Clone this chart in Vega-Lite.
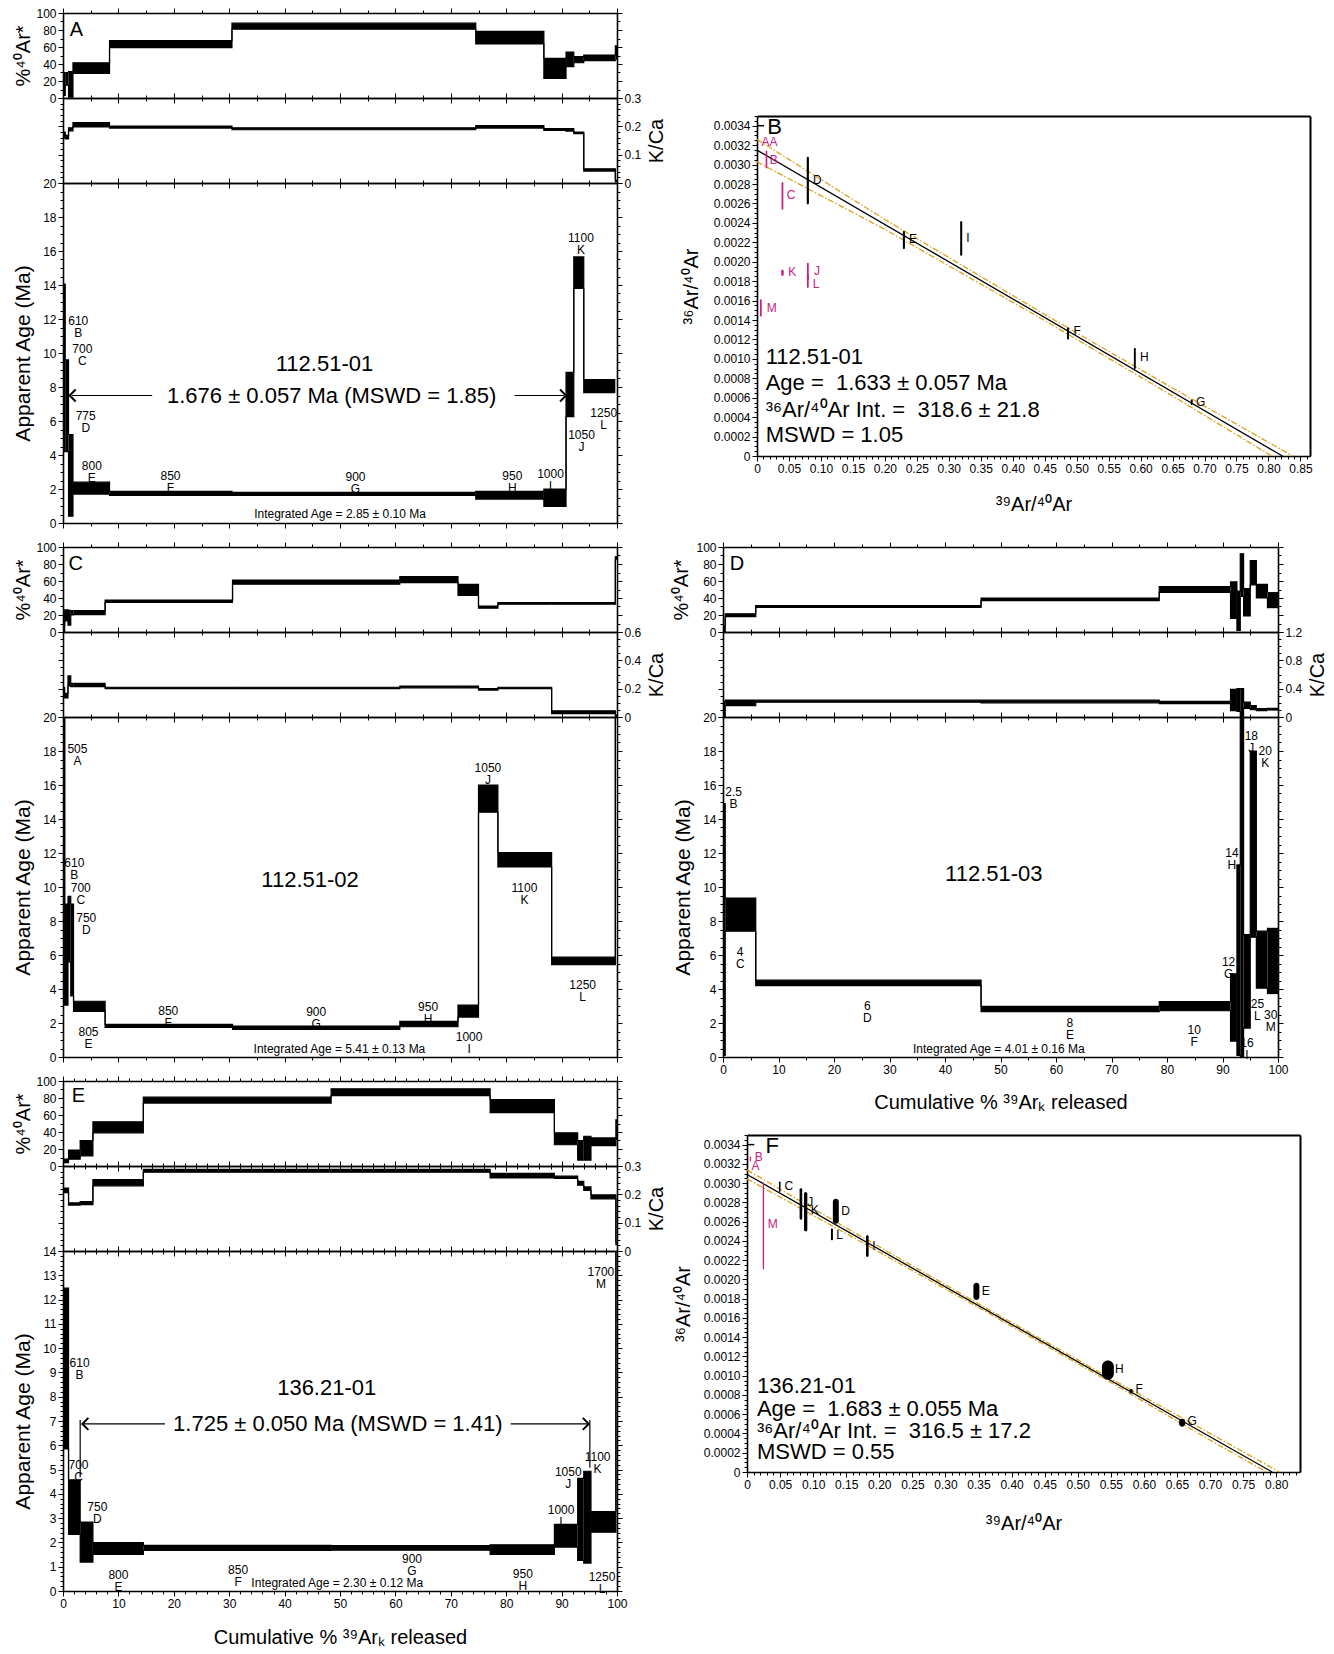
{
"$schema": "https://vega.github.io/schema/vega-lite/v6.json",
"background": "white",
"padding": {"left": 12, "top": 7, "right": 2, "bottom": 2},
"config": {
 "view": {"stroke": null},
 "font": "Liberation Sans",
 "axis": {"grid": false, "domainColor": "black", "domainWidth": 1.6, "tickColor": "black", "tickWidth": 1, "labelColor": "black", "labelFont": "Liberation Sans Narrow, Liberation Sans", "labelFontSize": 12, "labelPadding": 2, "labelFlush": false, "labelOverlap": false, "titleColor": "black", "titleFont": "Liberation Sans", "titleFontSize": 20, "titleFontWeight": "normal"},
 "text": {"color": "black"}
},
"datasets": {
 "A": [
  {"s":"B","x1":0,"x2":0.4,"p0":3,"p1":30,"k0":0.16,"k1":0.18,"a0":4.2,"a1":14.05},
  {"s":"C","x1":0.4,"x2":1.0,"p0":15,"p1":30,"k0":0.156,"k1":0.168,"a0":4.2,"a1":9.6},
  {"s":"D","x1":1.0,"x2":1.8,"p0":1,"p1":31,"k0":0.184,"k1":0.195,"a0":0.4,"a1":5.2},
  {"s":"E","x1":1.8,"x2":8.4,"p0":29,"p1":41.5,"k0":0.198,"k1":0.213,"a0":1.7,"a1":2.4},
  {"s":"F","x1":8.4,"x2":30.5,"p0":59.3,"p1":67.6,"k0":0.194,"k1":0.201,"a0":1.62,"a1":1.86},
  {"s":"G","x1":30.5,"x2":74.5,"p0":81,"p1":88,"k0":0.188,"k1":0.195,"a0":1.62,"a1":1.8},
  {"s":"H","x1":74.5,"x2":86.8,"p0":63.6,"p1":78.3,"k0":0.194,"k1":0.203,"a0":1.41,"a1":1.86},
  {"s":"I","x1":86.8,"x2":90.8,"p0":23,"p1":46.6,"k0":0.186,"k1":0.192,"a0":0.98,"a1":2.0},
  {"s":"J","x1":90.8,"x2":92.2,"p0":37,"p1":54,"k0":0.183,"k1":0.192,"a0":6.26,"a1":8.86},
  {"s":"K","x1":92.2,"x2":94.0,"p0":41.5,"p1":48.6,"k0":0.174,"k1":0.18,"a0":13.8,"a1":15.65},
  {"s":"L","x1":94.0,"x2":99.7,"p0":44,"p1":50.6,"k0":0.042,"k1":0.05,"a0":7.63,"a1":8.47},
  {"s":"M","x1":99.7,"x2":100,"p0":45,"p1":62,"k0":0.003,"k1":0.012,"a0":null,"a1":null}
 ],
 "C": [
  {"s":"A","x1":0,"x2":0.3,"p0":0,"p1":8,"k0":0.167,"k1":0.209,"a0":21,"a1":23},
  {"s":"B","x1":0.3,"x2":0.9,"p0":13,"p1":26,"k0":0.134,"k1":0.167,"a0":3.05,"a1":9.0},
  {"s":"C","x1":0.9,"x2":1.4,"p0":8,"p1":25.5,"k0":0.22,"k1":0.29,"a0":5.6,"a1":9.45},
  {"s":"D","x1":1.4,"x2":1.9,"p0":20,"p1":25,"k0":0.214,"k1":0.238,"a0":3.6,"a1":9.0},
  {"s":"E","x1":1.9,"x2":7.6,"p0":20.4,"p1":25.3,"k0":0.214,"k1":0.238,"a0":2.68,"a1":3.28},
  {"s":"F","x1":7.6,"x2":30.6,"p0":34.7,"p1":37.6,"k0":0.2,"k1":0.21,"a0":1.74,"a1":1.92},
  {"s":"G","x1":30.6,"x2":60.8,"p0":56.3,"p1":61.2,"k0":0.2,"k1":0.21,"a0":1.62,"a1":1.82},
  {"s":"H","x1":60.8,"x2":71.3,"p0":58,"p1":65.3,"k0":0.206,"k1":0.218,"a0":1.78,"a1":2.1},
  {"s":"I","x1":71.3,"x2":75.0,"p0":43,"p1":56,"k0":0.206,"k1":0.218,"a0":2.35,"a1":3.05},
  {"s":"J","x1":75.0,"x2":78.5,"p0":28,"p1":30.6,"k0":0.19,"k1":0.2,"a0":14.4,"a1":16.0},
  {"s":"K","x1":78.5,"x2":88.2,"p0":32.7,"p1":34.7,"k0":0.2,"k1":0.21,"a0":11.18,"a1":12.03},
  {"s":"L","x1":88.2,"x2":99.7,"p0":32.7,"p1":34.7,"k0":0.024,"k1":0.044,"a0":5.43,"a1":5.87},
  {"s":"M","x1":99.7,"x2":100,"p0":85,"p1":89,"k0":0.0,"k1":0.02,"a0":21,"a1":23}
 ],
 "D": [
  {"s":"B","x1":0,"x2":0.4,"p0":0,"p1":7.4,"k0":0,"k1":0.21,"a0":0.1,"a1":14.9},
  {"s":"C","x1":0.4,"x2":5.9,"p0":18,"p1":21.4,"k0":0.16,"k1":0.24,"a0":7.4,"a1":9.35},
  {"s":"D","x1":5.9,"x2":46.5,"p0":29,"p1":31,"k0":0.21,"k1":0.237,"a0":4.2,"a1":4.52},
  {"s":"E","x1":46.5,"x2":78.6,"p0":37,"p1":40,"k0":0.2,"k1":0.237,"a0":2.67,"a1":2.98},
  {"s":"F","x1":78.6,"x2":91.45,"p0":46.7,"p1":53.3,"k0":0.19,"k1":0.22,"a0":2.72,"a1":3.26},
  {"s":"G","x1":91.45,"x2":92.6,"p0":16,"p1":59,"k0":0.09,"k1":0.39,"a0":0.93,"a1":4.89},
  {"s":"H","x1":92.6,"x2":93.2,"p0":2,"p1":48,"k0":0.08,"k1":0.4,"a0":0.1,"a1":11.3},
  {"s":"I","x1":93.2,"x2":93.8,"p0":42,"p1":92,"k0":0.0,"k1":0.4,"a0":-0.5,"a1":21},
  {"s":"J","x1":93.8,"x2":95.0,"p0":19,"p1":51,"k0":0.12,"k1":0.21,"a0":1.7,"a1":7.2},
  {"s":"K","x1":95.0,"x2":96.1,"p0":55.5,"p1":84,"k0":0.105,"k1":0.16,"a0":7.05,"a1":18.0},
  {"s":"L","x1":96.1,"x2":98.1,"p0":40,"p1":56,"k0":0.09,"k1":0.12,"a0":4.05,"a1":7.4},
  {"s":"M","x1":98.1,"x2":100,"p0":28,"p1":47,"k0":0.09,"k1":0.13,"a0":3.7,"a1":7.6}
 ],
 "E": [
  {"s":"B","x1":0,"x2":1.0,"p0":4,"p1":8,"k0":0.206,"k1":0.222,"a0":5.85,"a1":12.47},
  {"s":"C","x1":1.0,"x2":3.1,"p0":8,"p1":18.8,"k0":0.162,"k1":0.17,"a0":2.33,"a1":4.58},
  {"s":"D","x1":3.1,"x2":5.4,"p0":12,"p1":30,"k0":0.164,"k1":0.174,"a0":1.19,"a1":2.84},
  {"s":"E","x1":5.4,"x2":14.5,"p0":39,"p1":52,"k0":0.23,"k1":0.252,"a0":1.51,"a1":1.99},
  {"s":"F","x1":14.5,"x2":48.4,"p0":74,"p1":81,"k0":0.278,"k1":0.288,"a0":1.67,"a1":1.88},
  {"s":"G","x1":48.4,"x2":77.1,"p0":82.8,"p1":90.8,"k0":0.278,"k1":0.288,"a0":1.68,"a1":1.87},
  {"s":"H","x1":77.1,"x2":88.7,"p0":62.8,"p1":78,"k0":0.258,"k1":0.274,"a0":1.51,"a1":1.9},
  {"s":"I","x1":88.7,"x2":92.9,"p0":25,"p1":39,"k0":0.256,"k1":0.264,"a0":1.81,"a1":2.74},
  {"s":"J","x1":92.9,"x2":94.0,"p0":7,"p1":30,"k0":0.232,"k1":0.246,"a0":1.26,"a1":4.64},
  {"s":"K","x1":94.0,"x2":95.3,"p0":7,"p1":35,"k0":0.214,"k1":0.226,"a0":1.15,"a1":4.93},
  {"s":"L","x1":95.3,"x2":99.8,"p0":24,"p1":33,"k0":0.184,"k1":0.198,"a0":2.42,"a1":3.27},
  {"s":"M","x1":99.8,"x2":100,"p0":30,"p1":55,"k0":0.02,"k1":0.03,"a0":14.5,"a1":16}
 ],
 "lab": [
  {"p":"A","t":"610\nB","x":2.75,"y":11.9},
  {"p":"A","t":"700\nC","x":3.5,"y":10.25},
  {"p":"A","t":"775\nD","x":4.1,"y":6.3},
  {"p":"A","t":"800\nE","x":5.2,"y":3.35},
  {"p":"A","t":"850\nF","x":19.4,"y":2.75},
  {"p":"A","t":"900\nG","x":52.8,"y":2.72},
  {"p":"A","t":"950\nH","x":81.1,"y":2.75},
  {"p":"A","t":"1000\nI","x":88.0,"y":2.9},
  {"p":"A","t":"1050\nJ","x":93.6,"y":5.2},
  {"p":"A","t":"1100\nK","x":93.5,"y":16.75},
  {"p":"A","t":"1250\nL","x":97.6,"y":6.5},
  {"p":"A","t":"Integrated Age = 2.85 ± 0.10 Ma","x":50,"y":0.53},
  {"p":"C","t":"505\nA","x":2.6,"y":18.1},
  {"p":"C","t":"610\nB","x":2.05,"y":11.4},
  {"p":"C","t":"700\nC","x":3.2,"y":9.95},
  {"p":"C","t":"750\nD","x":4.2,"y":8.15},
  {"p":"C","t":"805\nE","x":4.6,"y":1.47},
  {"p":"C","t":"850\nF","x":19.0,"y":2.72},
  {"p":"C","t":"900\nG","x":45.7,"y":2.62},
  {"p":"C","t":"950\nH","x":65.9,"y":2.95},
  {"p":"C","t":"1000\nI","x":73.3,"y":1.17},
  {"p":"C","t":"1050\nJ","x":76.7,"y":17.0},
  {"p":"C","t":"1100\nK","x":83.3,"y":9.95},
  {"p":"C","t":"1250\nL","x":93.8,"y":4.25},
  {"p":"C","t":"Integrated Age = 5.41 ± 0.13 Ma","x":49.9,"y":0.5},
  {"p":"D","t":"2.5\nB","x":1.9,"y":15.6},
  {"p":"D","t":"4\nC","x":3.1,"y":6.15},
  {"p":"D","t":"6\nD","x":26.0,"y":3.0},
  {"p":"D","t":"8\nE","x":62.5,"y":1.98},
  {"p":"D","t":"10\nF","x":84.9,"y":1.58},
  {"p":"D","t":"12\nG","x":91.1,"y":5.6},
  {"p":"D","t":"14\nH","x":91.7,"y":12.0},
  {"p":"D","t":"16\nI","x":94.4,"y":0.8},
  {"p":"D","t":"18\nJ","x":95.2,"y":18.9},
  {"p":"D","t":"20\nK","x":97.7,"y":18.0},
  {"p":"D","t":"25\nL","x":96.3,"y":3.1},
  {"p":"D","t":"30\nM","x":98.7,"y":2.5},
  {"p":"D","t":"Integrated Age = 4.01 ± 0.16 Ma","x":49.7,"y":0.5},
  {"p":"E","t":"610\nB","x":3.0,"y":9.4},
  {"p":"E","t":"700\nC","x":2.8,"y":5.2},
  {"p":"E","t":"750\nD","x":6.2,"y":3.45},
  {"p":"E","t":"800\nE","x":10.0,"y":0.65},
  {"p":"E","t":"850\nF","x":31.6,"y":0.88},
  {"p":"E","t":"900\nG","x":63.0,"y":1.3},
  {"p":"E","t":"950\nH","x":83.0,"y":0.7},
  {"p":"E","t":"1000\nI","x":89.9,"y":3.33},
  {"p":"E","t":"1050\nJ","x":91.2,"y":4.9},
  {"p":"E","t":"1100\nK","x":96.5,"y":5.5},
  {"p":"E","t":"1250\nL","x":97.3,"y":0.57},
  {"p":"E","t":"1700\nM","x":97.1,"y":13.14},
  {"p":"E","t":"Integrated Age = 2.30 ± 0.12 Ma","x":49.5,"y":0.34}
 ],
 "big": [
  {"p":"A","t":"112.51-01","x":47.2,"y":9.33},
  {"p":"A","t":"1.676 ± 0.057 Ma (MSWD = 1.85)","x":48.5,"y":7.5},
  {"p":"C","t":"112.51-02","x":44.6,"y":10.4},
  {"p":"D","t":"112.51-03","x":48.8,"y":10.76},
  {"p":"E","t":"136.21-01","x":47.6,"y":8.34},
  {"p":"E","t":"1.725 ± 0.050 Ma (MSWD = 1.41)","x":49.6,"y":6.88}
 ],
 "let": [
  {"p":"A","t":"A","x":1.2,"y":80},
  {"p":"C","t":"C","x":1.0,"y":80},
  {"p":"D","t":"D","x":1.2,"y":80},
  {"p":"E","t":"E","x":1.6,"y":82}
 ],
 "arr": [
  {"p":"A","x1":1.6,"x2":16.1,"y":7.5},
  {"p":"A","x1":81.5,"x2":90.4,"y":7.5},
  {"p":"E","x1":3.7,"x2":18.4,"y":6.88},
  {"p":"E","x1":80.8,"x2":94.6,"y":6.88}
 ],
 "chev": [
  {"p":"A","x":1.2,"y":7.5,"d":"l"},
  {"p":"A","x":90.8,"y":7.5,"d":"r"},
  {"p":"E","x":3.5,"y":6.88,"d":"l"},
  {"p":"E","x":94.9,"y":6.88,"d":"r"}
 ],
 "vbar": [
  {"p":"E","x":3.1,"y0":4.68,"y1":7.04},
  {"p":"E","x":95.1,"y0":5.07,"y1":7.04}
 ],
 "dash": [
  {"p":"B","x1":0,"x2":0.011,"y":0.0034},
  {"p":"F","x1":0,"x2":0.011,"y":0.0034}
 ],
 "pts": [
  {"p":"B","s":"B","x1":0.0135,"x2":0.0161,"y1":0.00296,"y2":0.003142,"st":"out"},
  {"p":"B","s":"C","x1":0.0384,"x2":0.0412,"y1":0.002536,"y2":0.00282,"st":"out"},
  {"p":"B","s":"D","x1":0.0778,"x2":0.0812,"y1":0.00259,"y2":0.00308,"st":"in"},
  {"p":"B","s":"E","x1":0.2282,"x2":0.2314,"y1":0.00213,"y2":0.002316,"st":"in"},
  {"p":"B","s":"I","x1":0.3178,"x2":0.321,"y1":0.002061,"y2":0.002416,"st":"in"},
  {"p":"B","s":"K","x1":0.0378,"x2":0.0418,"y1":0.001855,"y2":0.001917,"st":"out"},
  {"p":"B","s":"J","x1":0.0781,"x2":0.0809,"y1":0.00181,"y2":0.00199,"st":"out"},
  {"p":"B","s":"L","x1":0.0781,"x2":0.0809,"y1":0.00173,"y2":0.00188,"st":"out"},
  {"p":"B","s":"M","x1":0.0046,"x2":0.0074,"y1":0.001435,"y2":0.001614,"st":"out"},
  {"p":"B","s":"F","x1":0.485,"x2":0.488,"y1":0.001198,"y2":0.001325,"st":"in"},
  {"p":"B","s":"H","x1":0.5895,"x2":0.5925,"y1":0.000895,"y2":0.001111,"st":"in"},
  {"p":"B","s":"G","x1":0.6785,"x2":0.6815,"y1":0.000526,"y2":0.000581,"st":"in"},
  {"p":"F","s":"B","x1":0.0042,"x2":0.0062,"y1":0.003228,"y2":0.003276,"st":"out"},
  {"p":"F","s":"M","x1":0.0238,"x2":0.0258,"y1":0.002103,"y2":0.00301,"st":"out"},
  {"p":"F","s":"C","x1":0.0483,"x2":0.0507,"y1":0.002907,"y2":0.003017,"st":"in"},
  {"p":"F","s":"J","x1":0.0795,"x2":0.0835,"y1":0.002621,"y2":0.002948,"st":"in"},
  {"p":"F","s":"K","x1":0.0862,"x2":0.0912,"y1":0.0025,"y2":0.002907,"st":"in"},
  {"p":"F","s":"D","x1":0.1298,"x2":0.1388,"y1":0.002579,"y2":0.002838,"st":"in"},
  {"p":"F","s":"L","x1":0.1269,"x2":0.1299,"y1":0.002407,"y2":0.002528,"st":"in"},
  {"p":"F","s":"I","x1":0.1799,"x2":0.1839,"y1":0.002234,"y2":0.002459,"st":"in"},
  {"p":"F","s":"E","x1":0.3423,"x2":0.3513,"y1":0.001786,"y2":0.001966,"st":"in"},
  {"p":"F","s":"H","x1":0.5366,"x2":0.5546,"y1":0.000959,"y2":0.001159,"st":"in"},
  {"p":"F","s":"F","x1":0.5783,"x2":0.5833,"y1":0.000814,"y2":0.000862,"st":"in"},
  {"p":"F","s":"G","x1":0.6533,"x2":0.6623,"y1":0.000469,"y2":0.000552,"st":"in"}
 ],
 "ilab": [
  {"p":"B","t":"AA","x":0.0195,"y":0.003228,"st":"out"},
  {"p":"B","t":"B","x":0.0263,"y":0.003052,"st":"out"},
  {"p":"B","t":"C","x":0.0532,"y":0.002684,"st":"out"},
  {"p":"B","t":"D","x":0.0943,"y":0.002839,"st":"in"},
  {"p":"B","t":"E","x":0.244,"y":0.002237,"st":"in"},
  {"p":"B","t":"I","x":0.33,"y":0.002244,"st":"in"},
  {"p":"B","t":"K","x":0.0553,"y":0.001893,"st":"out"},
  {"p":"B","t":"J","x":0.0937,"y":0.001902,"st":"out"},
  {"p":"B","t":"L","x":0.0923,"y":0.001772,"st":"out"},
  {"p":"B","t":"M","x":0.0229,"y":0.001528,"st":"out"},
  {"p":"B","t":"F","x":0.501,"y":0.001284,"st":"in"},
  {"p":"B","t":"H","x":0.606,"y":0.001015,"st":"in"},
  {"p":"B","t":"G","x":0.694,"y":0.000557,"st":"in"},
  {"p":"F","t":"B","x":0.0176,"y":0.003269,"st":"out"},
  {"p":"F","t":"A","x":0.013,"y":0.003183,"st":"out"},
  {"p":"F","t":"M","x":0.0391,"y":0.002572,"st":"out"},
  {"p":"F","t":"C","x":0.0632,"y":0.002966,"st":"in"},
  {"p":"F","t":"J","x":0.0958,"y":0.002803,"st":"in"},
  {"p":"F","t":"K","x":0.1023,"y":0.002717,"st":"in"},
  {"p":"F","t":"D","x":0.149,"y":0.00271,"st":"in"},
  {"p":"F","t":"L","x":0.14,"y":0.002459,"st":"in"},
  {"p":"F","t":"I","x":0.192,"y":0.002345,"st":"in"},
  {"p":"F","t":"E","x":0.361,"y":0.001879,"st":"in"},
  {"p":"F","t":"H","x":0.563,"y":0.001069,"st":"in"},
  {"p":"F","t":"F","x":0.593,"y":0.000862,"st":"in"},
  {"p":"F","t":"G","x":0.673,"y":0.000528,"st":"in"}
 ],
 "itxt": [
  {"p":"B","t":"B","x":0.0162,"y":0.00339},
  {"p":"B","t":"112.51-01","x":0.0135,"y":0.001015},
  {"p":"B","t":"Age = \u00a01.633 ± 0.057 Ma","x":0.0135,"y":0.000747},
  {"p":"B","t":"³⁶Ar/⁴⁰Ar Int. = \u00a0318.6 ± 21.8","x":0.0135,"y":0.000471},
  {"p":"B","t":"MSWD = 1.05","x":0.0135,"y":0.000213},
  {"p":"F","t":"F","x":0.028,"y":0.00339},
  {"p":"F","t":"136.21-01","x":0.015,"y":0.00089},
  {"p":"F","t":"Age = \u00a01.683 ± 0.055 Ma","x":0.015,"y":0.000655},
  {"p":"F","t":"³⁶Ar/⁴⁰Ar Int. = \u00a0316.5 ± 17.2","x":0.015,"y":0.000424},
  {"p":"F","t":"MSWD = 0.55","x":0.015,"y":0.00021}
 ],
 "fit": [
  {"p":"B","x":0,"y":0.003149},
  {"p":"B","x":0.822,"y":0},
  {"p":"F","x":0,"y":0.00309},
  {"p":"F","x":0.794,"y":0}
 ],
 "env": [
  {"p":"B","s":"u","x":0,"y":0.003259},
  {"p":"B","s":"u","x":0.2,"y":0.002435},
  {"p":"B","s":"u","x":0.45,"y":0.001457},
  {"p":"B","s":"u","x":0.65,"y":0.0007},
  {"p":"B","s":"u","x":0.838,"y":0},
  {"p":"B","s":"l","x":0,"y":0.003028},
  {"p":"B","s":"l","x":0.2,"y":0.002333},
  {"p":"B","s":"l","x":0.45,"y":0.001395},
  {"p":"B","s":"l","x":0.65,"y":0.000618},
  {"p":"B","s":"l","x":0.805,"y":0},
  {"p":"F","s":"u","x":0,"y":0.003138},
  {"p":"F","s":"u","x":0.15,"y":0.002536},
  {"p":"F","s":"u","x":0.35,"y":0.001748},
  {"p":"F","s":"u","x":0.55,"y":0.00097},
  {"p":"F","s":"u","x":0.7,"y":0.000401},
  {"p":"F","s":"u","x":0.805,"y":0},
  {"p":"F","s":"l","x":0,"y":0.003045},
  {"p":"F","s":"l","x":0.15,"y":0.002476},
  {"p":"F","s":"l","x":0.35,"y":0.001708},
  {"p":"F","s":"l","x":0.55,"y":0.00093},
  {"p":"F","s":"l","x":0.7,"y":0.000331},
  {"p":"F","s":"l","x":0.7855,"y":0}
 ]
},
"columns": 2,
"align": "none",
"bounds": "flush",
"spacing": {"row": 0, "column": 106},
"concat": [
   {"width":554,"height":85,"data":{"name":"A"},"resolve":{"axis":{"x":"independent","y":"independent"}},"layer":[
    {"mark":{"type":"rect","color":"black","clip":true},"encoding":{"x":{"field":"x1","type":"quantitative","scale":{"domain":[0,100],"nice":false,"zero":false},"axis":{"orient":"bottom","values":[0,10,20,30,40,50,60,70,80,90,100],"labels":false,"title":null,"tickSize":5}},"x2":{"field":"x2"},"y":{"field":"p0","type":"quantitative","scale":{"domain":[0,100],"nice":false,"zero":false},"axis":{"orient":"left","values":[0,20,40,60,80,100],"title":"%⁴⁰Ar*","titleX":-40,"titleBaseline":"middle","tickSize":5}},"y2":{"field":"p1"}}},
    {"mark":{"type":"line","interpolate":"step-after","color":"black","strokeWidth":1.2,"clip":true},"encoding":{"x":{"field":"x1","type":"quantitative","axis":null},"y":{"field":"p1","type":"quantitative","axis":null}}},
    {"mark":{"type":"line","interpolate":"step-after","color":"black","strokeWidth":1.2,"clip":true},"encoding":{"x":{"field":"x1","type":"quantitative","axis":null},"y":{"field":"p0","type":"quantitative","axis":null}}},
    {"mark":{"type":"point","opacity":0},"encoding":{"x":{"field":"x1","type":"quantitative","axis":{"orient":"top","values":[0,10,20,30,40,50,60,70,80,90,100],"labels":false,"title":null,"tickSize":5}},"y":{"field":"p0","type":"quantitative","axis":{"orient":"right","values":[0,20,40,60,80,100],"labels":false,"title":null,"tickSize":5}}}},
    {"mark":{"type":"point","opacity":0},"encoding":{"x":{"field":"x1","type":"quantitative","axis":{"orient":"bottom","tickCount":20,"labels":false,"domain":false,"title":null,"tickSize":3}},"y":{"field":"p0","type":"quantitative","axis":{"orient":"left","tickCount":10,"labels":false,"domain":false,"title":null,"tickSize":3}}}},
    {"mark":{"type":"point","opacity":0},"encoding":{"x":{"field":"x1","type":"quantitative","axis":{"orient":"top","tickCount":20,"labels":false,"domain":false,"title":null,"tickSize":3}},"y":{"field":"p0","type":"quantitative","axis":{"orient":"right","tickCount":10,"labels":false,"domain":false,"title":null,"tickSize":3}}}},
    {"data":{"name":"let"},"transform":[{"filter":{"field":"p","equal":"A"}}],"mark":{"type":"text","fontSize":20,"align":"left","baseline":"middle"},"encoding":{"x":{"field":"x","type":"quantitative","axis":null},"y":{"field":"y","type":"quantitative","axis":null},"text":{"field":"t"}}}
   ]},
   {"width":587,"height":1,"data":{"values":[]},"mark":{"type":"point","opacity":0}},
   {"width":554,"height":85,"data":{"name":"A"},"resolve":{"axis":{"x":"independent","y":"independent"}},"layer":[
    {"mark":{"type":"rect","color":"black","clip":true},"encoding":{"x":{"field":"x1","type":"quantitative","scale":{"domain":[0,100],"nice":false,"zero":false},"axis":{"orient":"bottom","values":[0,10,20,30,40,50,60,70,80,90,100],"labels":false,"title":null,"tickSize":5}},"x2":{"field":"x2"},"y":{"field":"k0","type":"quantitative","scale":{"domain":[0,0.3],"nice":false,"zero":false},"axis":{"orient":"right","values":[0,0.1,0.2,0.3],"format":"~g","title":"K/Ca","titleX":39,"titleAngle":270,"titleBaseline":"middle","tickSize":5}},"y2":{"field":"k1"}}},
    {"mark":{"type":"line","interpolate":"step-after","color":"black","strokeWidth":1.2,"clip":true},"encoding":{"x":{"field":"x1","type":"quantitative","axis":null},"y":{"field":"k1","type":"quantitative","axis":null}}},
    {"mark":{"type":"line","interpolate":"step-after","color":"black","strokeWidth":1.2,"clip":true},"encoding":{"x":{"field":"x1","type":"quantitative","axis":null},"y":{"field":"k0","type":"quantitative","axis":null}}},
    {"mark":{"type":"point","opacity":0},"encoding":{"x":{"field":"x1","type":"quantitative","axis":{"orient":"top","values":[0,10,20,30,40,50,60,70,80,90,100],"labels":false,"title":null,"tickSize":5}},"y":{"field":"k0","type":"quantitative","axis":{"orient":"left","values":[0,0.1,0.2,0.3],"labels":false,"title":null,"tickSize":5}}}},
    {"mark":{"type":"point","opacity":0},"encoding":{"x":{"field":"x1","type":"quantitative","axis":{"orient":"bottom","tickCount":20,"labels":false,"domain":false,"title":null,"tickSize":3}},"y":{"field":"k0","type":"quantitative","axis":{"orient":"left","tickCount":15,"labels":false,"domain":false,"title":null,"tickSize":3}}}},
    {"mark":{"type":"point","opacity":0},"encoding":{"x":{"field":"x1","type":"quantitative","axis":{"orient":"top","tickCount":20,"labels":false,"domain":false,"title":null,"tickSize":3}},"y":{"field":"k0","type":"quantitative","axis":{"orient":"right","tickCount":15,"labels":false,"domain":false,"title":null,"tickSize":3}}}}
   ]},
   {"width":587,"height":85,"resolve":{"axis":{"x":"independent","y":"independent"}},"layer":[
    {"data":{"name":"env"},"transform":[{"filter":{"field":"p","equal":"B"}}],"mark":{"type":"line","color":"#D9A21B","strokeWidth":1.3,"strokeDash":[6,2,1.5,2]},"encoding":{"x":{"field":"x","type":"quantitative","scale":{"domain":[0,0.865],"range":[34,587],"nice":false,"zero":false},"axis":{"orient":"bottom","offset":273,"tickCount":17,"labelExpr":"datum.value == 0 ? '0' : format(datum.value, '.2f')","title":"³⁹Ar/⁴⁰Ar","titleY":48,"titleBaseline":"middle","tickSize":5}},"y":{"field":"y","type":"quantitative","scale":{"domain":[0,0.0035],"range":[358,18],"nice":false,"zero":false},"axis":{"orient":"left","offset":-34,"tickCount":17,"labelExpr":"datum.value == 0 ? '0' : format(datum.value, '.4f')","title":"³⁶Ar/⁴⁰Ar","titleX":-66,"titleBaseline":"middle","tickSize":5}},"detail":{"field":"s"}}},
    {"data":{"name":"fit"},"transform":[{"filter":{"field":"p","equal":"B"}}],"mark":{"type":"line","color":"black","strokeWidth":1.3},"encoding":{"x":{"field":"x","type":"quantitative","axis":null},"y":{"field":"y","type":"quantitative","axis":null}}},
    {"data":{"name":"dash"},"transform":[{"filter":{"field":"p","equal":"B"}}],"mark":{"type":"rule","color":"black","strokeWidth":1.5},"encoding":{"x":{"field":"x1","type":"quantitative","axis":null},"x2":{"field":"x2"},"y":{"field":"y","type":"quantitative","axis":null}}},
    {"data":{"name":"pts"},"transform":[{"filter":{"field":"p","equal":"B"}}],"mark":{"type":"rect","cornerRadius":12},"encoding":{"x":{"field":"x1","type":"quantitative","axis":null},"x2":{"field":"x2"},"y":{"field":"y1","type":"quantitative","axis":null},"y2":{"field":"y2"},"color":{"field":"st","type":"nominal","scale":{"domain":["in","out"],"range":["black","#C8207E"]},"legend":null}}},
    {"data":{"name":"ilab"},"transform":[{"filter":{"field":"p","equal":"B"}}],"mark":{"type":"text","font":"Liberation Sans Narrow, Liberation Sans","fontSize":12,"baseline":"middle"},"encoding":{"x":{"field":"x","type":"quantitative","axis":null},"y":{"field":"y","type":"quantitative","axis":null},"text":{"field":"t"},"color":{"field":"st","type":"nominal","legend":null}}},
    {"data":{"name":"itxt"},"transform":[{"filter":{"field":"p","equal":"B"}}],"mark":{"type":"text","fontSize":22,"align":"left","baseline":"middle"},"encoding":{"x":{"field":"x","type":"quantitative","axis":null},"y":{"field":"y","type":"quantitative","axis":null},"text":{"field":"t"}}},
    {"data":{"name":"fit"},"transform":[{"filter":{"field":"p","equal":"B"}}],"mark":{"type":"point","opacity":0},"encoding":{"x":{"field":"x","type":"quantitative","axis":{"orient":"bottom","offset":273,"tickCount":87,"labels":false,"domain":false,"title":null,"tickSize":3}},"y":{"field":"y","type":"quantitative","axis":{"orient":"left","offset":-34,"tickCount":70,"labels":false,"domain":false,"title":null,"tickSize":3}}}},
    {"data":{"name":"fit"},"transform":[{"filter":{"field":"p","equal":"B"}}],"mark":{"type":"point","opacity":0},"encoding":{"x":{"field":"x","type":"quantitative","axis":{"orient":"top","offset":-18,"ticks":false,"labels":false,"title":null,"domainWidth":2}},"y":{"field":"y","type":"quantitative","axis":{"orient":"right","ticks":false,"labels":false,"title":null,"domainWidth":2}}}}
   ]},
   {"width":554,"height":340,"data":{"name":"A"},"resolve":{"axis":{"x":"independent","y":"independent"}},"layer":[
    {"mark":{"type":"rect","color":"black","clip":true},"encoding":{"x":{"field":"x1","type":"quantitative","scale":{"domain":[0,100],"nice":false,"zero":false},"axis":{"orient":"bottom","values":[0,10,20,30,40,50,60,70,80,90,100],"labels":false,"title":null,"tickSize":5}},"x2":{"field":"x2"},"y":{"field":"a0","type":"quantitative","scale":{"domain":[0,20],"nice":false,"zero":false},"axis":{"orient":"left","values":[0,2,4,6,8,10,12,14,16,18,20],"title":"Apparent Age (Ma)","titleFontSize":21,"titleX":-40,"titleBaseline":"middle","tickSize":5}},"y2":{"field":"a1"}}},
    {"mark":{"type":"line","interpolate":"step-after","color":"black","strokeWidth":1.2,"clip":true},"encoding":{"x":{"field":"x1","type":"quantitative","axis":null},"y":{"field":"a1","type":"quantitative","axis":null}}},
    {"mark":{"type":"line","interpolate":"step-after","color":"black","strokeWidth":1.2,"clip":true},"encoding":{"x":{"field":"x1","type":"quantitative","axis":null},"y":{"field":"a0","type":"quantitative","axis":null}}},
    {"mark":{"type":"point","opacity":0},"encoding":{"x":{"field":"x1","type":"quantitative","axis":{"orient":"top","values":[0,10,20,30,40,50,60,70,80,90,100],"labels":false,"title":null,"tickSize":5}},"y":{"field":"a0","type":"quantitative","axis":{"orient":"right","values":[0,2,4,6,8,10,12,14,16,18,20],"labels":false,"title":null,"tickSize":5}}}},
    {"mark":{"type":"point","opacity":0},"encoding":{"x":{"field":"x1","type":"quantitative","axis":{"orient":"bottom","tickCount":20,"labels":false,"domain":false,"title":null,"tickSize":3}},"y":{"field":"a0","type":"quantitative","axis":{"orient":"left","tickCount":40,"labels":false,"domain":false,"title":null,"tickSize":3}}}},
    {"mark":{"type":"point","opacity":0},"encoding":{"x":{"field":"x1","type":"quantitative","axis":{"orient":"top","tickCount":20,"labels":false,"domain":false,"title":null,"tickSize":3}},"y":{"field":"a0","type":"quantitative","axis":{"orient":"right","tickCount":40,"labels":false,"domain":false,"title":null,"tickSize":3}}}},
    {"data":{"name":"lab"},"transform":[{"filter":{"field":"p","equal":"A"}}],"mark":{"type":"text","font":"Liberation Sans Narrow, Liberation Sans","fontSize":12,"lineBreak":"\n","lineHeight":12,"baseline":"middle"},"encoding":{"x":{"field":"x","type":"quantitative","axis":null},"y":{"field":"y","type":"quantitative","axis":null},"text":{"field":"t"}}},
    {"data":{"name":"big"},"transform":[{"filter":{"field":"p","equal":"A"}}],"mark":{"type":"text","fontSize":22,"baseline":"middle"},"encoding":{"x":{"field":"x","type":"quantitative","axis":null},"y":{"field":"y","type":"quantitative","axis":null},"text":{"field":"t"}}},
    {"data":{"name":"arr"},"transform":[{"filter":{"field":"p","equal":"A"}}],"mark":{"type":"rule","color":"black","strokeWidth":1.2},"encoding":{"x":{"field":"x1","type":"quantitative","axis":null},"x2":{"field":"x2"},"y":{"field":"y","type":"quantitative","axis":null}}},
    {"data":{"name":"chev"},"transform":[{"filter":{"field":"p","equal":"A"}}],"mark":{"type":"point","filled":false,"color":"black","strokeWidth":2,"size":144,"opacity":1},"encoding":{"x":{"field":"x","type":"quantitative","axis":null},"y":{"field":"y","type":"quantitative","axis":null},"shape":{"field":"d","type":"nominal","scale":{"domain":["l","r"],"range":["M1,-1L0,0L1,1","M-1,-1L0,0L-1,1"]},"legend":null}}}
   ]},
   {"width":587,"height":1,"data":{"values":[]},"mark":{"type":"point","opacity":0}},
   {"width":554,"height":24,"data":{"values":[]},"mark":{"type":"point","opacity":0}},
   {"width":587,"height":1,"data":{"values":[]},"mark":{"type":"point","opacity":0}},
   {"width":554,"height":85,"data":{"name":"C"},"resolve":{"axis":{"x":"independent","y":"independent"}},"layer":[
    {"mark":{"type":"rect","color":"black","clip":true},"encoding":{"x":{"field":"x1","type":"quantitative","scale":{"domain":[0,100],"nice":false,"zero":false},"axis":{"orient":"bottom","values":[0,10,20,30,40,50,60,70,80,90,100],"labels":false,"title":null,"tickSize":5}},"x2":{"field":"x2"},"y":{"field":"p0","type":"quantitative","scale":{"domain":[0,100],"nice":false,"zero":false},"axis":{"orient":"left","values":[0,20,40,60,80,100],"title":"%⁴⁰Ar*","titleX":-40,"titleBaseline":"middle","tickSize":5}},"y2":{"field":"p1"}}},
    {"mark":{"type":"line","interpolate":"step-after","color":"black","strokeWidth":1.2,"clip":true},"encoding":{"x":{"field":"x1","type":"quantitative","axis":null},"y":{"field":"p1","type":"quantitative","axis":null}}},
    {"mark":{"type":"line","interpolate":"step-after","color":"black","strokeWidth":1.2,"clip":true},"encoding":{"x":{"field":"x1","type":"quantitative","axis":null},"y":{"field":"p0","type":"quantitative","axis":null}}},
    {"mark":{"type":"point","opacity":0},"encoding":{"x":{"field":"x1","type":"quantitative","axis":{"orient":"top","values":[0,10,20,30,40,50,60,70,80,90,100],"labels":false,"title":null,"tickSize":5}},"y":{"field":"p0","type":"quantitative","axis":{"orient":"right","values":[0,20,40,60,80,100],"labels":false,"title":null,"tickSize":5}}}},
    {"mark":{"type":"point","opacity":0},"encoding":{"x":{"field":"x1","type":"quantitative","axis":{"orient":"bottom","tickCount":20,"labels":false,"domain":false,"title":null,"tickSize":3}},"y":{"field":"p0","type":"quantitative","axis":{"orient":"left","tickCount":10,"labels":false,"domain":false,"title":null,"tickSize":3}}}},
    {"mark":{"type":"point","opacity":0},"encoding":{"x":{"field":"x1","type":"quantitative","axis":{"orient":"top","tickCount":20,"labels":false,"domain":false,"title":null,"tickSize":3}},"y":{"field":"p0","type":"quantitative","axis":{"orient":"right","tickCount":10,"labels":false,"domain":false,"title":null,"tickSize":3}}}},
    {"data":{"name":"let"},"transform":[{"filter":{"field":"p","equal":"C"}}],"mark":{"type":"text","fontSize":20,"align":"left","baseline":"middle"},"encoding":{"x":{"field":"x","type":"quantitative","axis":null},"y":{"field":"y","type":"quantitative","axis":null},"text":{"field":"t"}}}
   ]},
   {"width":555,"height":85,"data":{"name":"D"},"resolve":{"axis":{"x":"independent","y":"independent"}},"layer":[
    {"mark":{"type":"rect","color":"black","clip":true},"encoding":{"x":{"field":"x1","type":"quantitative","scale":{"domain":[0,100],"nice":false,"zero":false},"axis":{"orient":"bottom","values":[0,10,20,30,40,50,60,70,80,90,100],"labels":false,"title":null,"tickSize":5}},"x2":{"field":"x2"},"y":{"field":"p0","type":"quantitative","scale":{"domain":[0,100],"nice":false,"zero":false},"axis":{"orient":"left","values":[0,20,40,60,80,100],"title":"%⁴⁰Ar*","titleX":-42,"titleBaseline":"middle","tickSize":5}},"y2":{"field":"p1"}}},
    {"mark":{"type":"line","interpolate":"step-after","color":"black","strokeWidth":1.2,"clip":true},"encoding":{"x":{"field":"x1","type":"quantitative","axis":null},"y":{"field":"p1","type":"quantitative","axis":null}}},
    {"mark":{"type":"line","interpolate":"step-after","color":"black","strokeWidth":1.2,"clip":true},"encoding":{"x":{"field":"x1","type":"quantitative","axis":null},"y":{"field":"p0","type":"quantitative","axis":null}}},
    {"mark":{"type":"point","opacity":0},"encoding":{"x":{"field":"x1","type":"quantitative","axis":{"orient":"top","values":[0,10,20,30,40,50,60,70,80,90,100],"labels":false,"title":null,"tickSize":5}},"y":{"field":"p0","type":"quantitative","axis":{"orient":"right","values":[0,20,40,60,80,100],"labels":false,"title":null,"tickSize":5}}}},
    {"mark":{"type":"point","opacity":0},"encoding":{"x":{"field":"x1","type":"quantitative","axis":{"orient":"bottom","tickCount":20,"labels":false,"domain":false,"title":null,"tickSize":3}},"y":{"field":"p0","type":"quantitative","axis":{"orient":"left","tickCount":10,"labels":false,"domain":false,"title":null,"tickSize":3}}}},
    {"mark":{"type":"point","opacity":0},"encoding":{"x":{"field":"x1","type":"quantitative","axis":{"orient":"top","tickCount":20,"labels":false,"domain":false,"title":null,"tickSize":3}},"y":{"field":"p0","type":"quantitative","axis":{"orient":"right","tickCount":10,"labels":false,"domain":false,"title":null,"tickSize":3}}}},
    {"data":{"name":"let"},"transform":[{"filter":{"field":"p","equal":"D"}}],"mark":{"type":"text","fontSize":20,"align":"left","baseline":"middle"},"encoding":{"x":{"field":"x","type":"quantitative","axis":null},"y":{"field":"y","type":"quantitative","axis":null},"text":{"field":"t"}}}
   ]},
   {"width":554,"height":85,"data":{"name":"C"},"resolve":{"axis":{"x":"independent","y":"independent"}},"layer":[
    {"mark":{"type":"rect","color":"black","clip":true},"encoding":{"x":{"field":"x1","type":"quantitative","scale":{"domain":[0,100],"nice":false,"zero":false},"axis":{"orient":"bottom","values":[0,10,20,30,40,50,60,70,80,90,100],"labels":false,"title":null,"tickSize":5}},"x2":{"field":"x2"},"y":{"field":"k0","type":"quantitative","scale":{"domain":[0,0.6],"nice":false,"zero":false},"axis":{"orient":"right","values":[0,0.2,0.4,0.6],"format":"~g","title":"K/Ca","titleX":39,"titleAngle":270,"titleBaseline":"middle","tickSize":5}},"y2":{"field":"k1"}}},
    {"mark":{"type":"line","interpolate":"step-after","color":"black","strokeWidth":1.2,"clip":true},"encoding":{"x":{"field":"x1","type":"quantitative","axis":null},"y":{"field":"k1","type":"quantitative","axis":null}}},
    {"mark":{"type":"line","interpolate":"step-after","color":"black","strokeWidth":1.2,"clip":true},"encoding":{"x":{"field":"x1","type":"quantitative","axis":null},"y":{"field":"k0","type":"quantitative","axis":null}}},
    {"mark":{"type":"point","opacity":0},"encoding":{"x":{"field":"x1","type":"quantitative","axis":{"orient":"top","values":[0,10,20,30,40,50,60,70,80,90,100],"labels":false,"title":null,"tickSize":5}},"y":{"field":"k0","type":"quantitative","axis":{"orient":"left","values":[0,0.2,0.4,0.6],"labels":false,"title":null,"tickSize":5}}}},
    {"mark":{"type":"point","opacity":0},"encoding":{"x":{"field":"x1","type":"quantitative","axis":{"orient":"bottom","tickCount":20,"labels":false,"domain":false,"title":null,"tickSize":3}},"y":{"field":"k0","type":"quantitative","axis":{"orient":"left","tickCount":12,"labels":false,"domain":false,"title":null,"tickSize":3}}}},
    {"mark":{"type":"point","opacity":0},"encoding":{"x":{"field":"x1","type":"quantitative","axis":{"orient":"top","tickCount":20,"labels":false,"domain":false,"title":null,"tickSize":3}},"y":{"field":"k0","type":"quantitative","axis":{"orient":"right","tickCount":12,"labels":false,"domain":false,"title":null,"tickSize":3}}}}
   ]},
   {"width":555,"height":85,"data":{"name":"D"},"resolve":{"axis":{"x":"independent","y":"independent"}},"layer":[
    {"mark":{"type":"rect","color":"black","clip":true},"encoding":{"x":{"field":"x1","type":"quantitative","scale":{"domain":[0,100],"nice":false,"zero":false},"axis":{"orient":"bottom","values":[0,10,20,30,40,50,60,70,80,90,100],"labels":false,"title":null,"tickSize":5}},"x2":{"field":"x2"},"y":{"field":"k0","type":"quantitative","scale":{"domain":[0,1.2],"nice":false,"zero":false},"axis":{"orient":"right","values":[0,0.4,0.8,1.2],"format":"~g","title":"K/Ca","titleX":39,"titleAngle":270,"titleBaseline":"middle","tickSize":5}},"y2":{"field":"k1"}}},
    {"mark":{"type":"line","interpolate":"step-after","color":"black","strokeWidth":1.2,"clip":true},"encoding":{"x":{"field":"x1","type":"quantitative","axis":null},"y":{"field":"k1","type":"quantitative","axis":null}}},
    {"mark":{"type":"line","interpolate":"step-after","color":"black","strokeWidth":1.2,"clip":true},"encoding":{"x":{"field":"x1","type":"quantitative","axis":null},"y":{"field":"k0","type":"quantitative","axis":null}}},
    {"mark":{"type":"point","opacity":0},"encoding":{"x":{"field":"x1","type":"quantitative","axis":{"orient":"top","values":[0,10,20,30,40,50,60,70,80,90,100],"labels":false,"title":null,"tickSize":5}},"y":{"field":"k0","type":"quantitative","axis":{"orient":"left","values":[0,0.4,0.8,1.2],"labels":false,"title":null,"tickSize":5}}}},
    {"mark":{"type":"point","opacity":0},"encoding":{"x":{"field":"x1","type":"quantitative","axis":{"orient":"bottom","tickCount":20,"labels":false,"domain":false,"title":null,"tickSize":3}},"y":{"field":"k0","type":"quantitative","axis":{"orient":"left","tickCount":12,"labels":false,"domain":false,"title":null,"tickSize":3}}}},
    {"mark":{"type":"point","opacity":0},"encoding":{"x":{"field":"x1","type":"quantitative","axis":{"orient":"top","tickCount":20,"labels":false,"domain":false,"title":null,"tickSize":3}},"y":{"field":"k0","type":"quantitative","axis":{"orient":"right","tickCount":12,"labels":false,"domain":false,"title":null,"tickSize":3}}}}
   ]},
   {"width":554,"height":340,"data":{"name":"C"},"resolve":{"axis":{"x":"independent","y":"independent"}},"layer":[
    {"mark":{"type":"rect","color":"black","clip":true},"encoding":{"x":{"field":"x1","type":"quantitative","scale":{"domain":[0,100],"nice":false,"zero":false},"axis":{"orient":"bottom","values":[0,10,20,30,40,50,60,70,80,90,100],"labels":false,"title":null,"tickSize":5}},"x2":{"field":"x2"},"y":{"field":"a0","type":"quantitative","scale":{"domain":[0,20],"nice":false,"zero":false},"axis":{"orient":"left","values":[0,2,4,6,8,10,12,14,16,18,20],"title":"Apparent Age (Ma)","titleFontSize":21,"titleX":-40,"titleBaseline":"middle","tickSize":5}},"y2":{"field":"a1"}}},
    {"mark":{"type":"line","interpolate":"step-after","color":"black","strokeWidth":1.2,"clip":true},"encoding":{"x":{"field":"x1","type":"quantitative","axis":null},"y":{"field":"a1","type":"quantitative","axis":null}}},
    {"mark":{"type":"line","interpolate":"step-after","color":"black","strokeWidth":1.2,"clip":true},"encoding":{"x":{"field":"x1","type":"quantitative","axis":null},"y":{"field":"a0","type":"quantitative","axis":null}}},
    {"mark":{"type":"point","opacity":0},"encoding":{"x":{"field":"x1","type":"quantitative","axis":{"orient":"top","values":[0,10,20,30,40,50,60,70,80,90,100],"labels":false,"title":null,"tickSize":5}},"y":{"field":"a0","type":"quantitative","axis":{"orient":"right","values":[0,2,4,6,8,10,12,14,16,18,20],"labels":false,"title":null,"tickSize":5}}}},
    {"mark":{"type":"point","opacity":0},"encoding":{"x":{"field":"x1","type":"quantitative","axis":{"orient":"bottom","tickCount":20,"labels":false,"domain":false,"title":null,"tickSize":3}},"y":{"field":"a0","type":"quantitative","axis":{"orient":"left","tickCount":40,"labels":false,"domain":false,"title":null,"tickSize":3}}}},
    {"mark":{"type":"point","opacity":0},"encoding":{"x":{"field":"x1","type":"quantitative","axis":{"orient":"top","tickCount":20,"labels":false,"domain":false,"title":null,"tickSize":3}},"y":{"field":"a0","type":"quantitative","axis":{"orient":"right","tickCount":40,"labels":false,"domain":false,"title":null,"tickSize":3}}}},
    {"data":{"name":"lab"},"transform":[{"filter":{"field":"p","equal":"C"}}],"mark":{"type":"text","font":"Liberation Sans Narrow, Liberation Sans","fontSize":12,"lineBreak":"\n","lineHeight":12,"baseline":"middle"},"encoding":{"x":{"field":"x","type":"quantitative","axis":null},"y":{"field":"y","type":"quantitative","axis":null},"text":{"field":"t"}}},
    {"data":{"name":"big"},"transform":[{"filter":{"field":"p","equal":"C"}}],"mark":{"type":"text","fontSize":22,"baseline":"middle"},"encoding":{"x":{"field":"x","type":"quantitative","axis":null},"y":{"field":"y","type":"quantitative","axis":null},"text":{"field":"t"}}}
   ]},
   {"width":555,"height":340,"data":{"name":"D"},"resolve":{"axis":{"x":"independent","y":"independent"}},"layer":[
    {"mark":{"type":"rect","color":"black","clip":true},"encoding":{"x":{"field":"x1","type":"quantitative","scale":{"domain":[0,100],"nice":false,"zero":false},"axis":{"orient":"bottom","values":[0,10,20,30,40,50,60,70,80,90,100],"title":"Cumulative % ³⁹Arₖ released","titleY":45,"titleBaseline":"middle","tickSize":5}},"x2":{"field":"x2"},"y":{"field":"a0","type":"quantitative","scale":{"domain":[0,20],"nice":false,"zero":false},"axis":{"orient":"left","values":[0,2,4,6,8,10,12,14,16,18,20],"title":"Apparent Age (Ma)","titleFontSize":21,"titleX":-40,"titleBaseline":"middle","tickSize":5}},"y2":{"field":"a1"}}},
    {"mark":{"type":"line","interpolate":"step-after","color":"black","strokeWidth":1.2,"clip":true},"encoding":{"x":{"field":"x1","type":"quantitative","axis":null},"y":{"field":"a1","type":"quantitative","axis":null}}},
    {"mark":{"type":"line","interpolate":"step-after","color":"black","strokeWidth":1.2,"clip":true},"encoding":{"x":{"field":"x1","type":"quantitative","axis":null},"y":{"field":"a0","type":"quantitative","axis":null}}},
    {"mark":{"type":"point","opacity":0},"encoding":{"x":{"field":"x1","type":"quantitative","axis":{"orient":"top","values":[0,10,20,30,40,50,60,70,80,90,100],"labels":false,"title":null,"tickSize":5}},"y":{"field":"a0","type":"quantitative","axis":{"orient":"right","values":[0,2,4,6,8,10,12,14,16,18,20],"labels":false,"title":null,"tickSize":5}}}},
    {"mark":{"type":"point","opacity":0},"encoding":{"x":{"field":"x1","type":"quantitative","axis":{"orient":"bottom","tickCount":20,"labels":false,"domain":false,"title":null,"tickSize":3}},"y":{"field":"a0","type":"quantitative","axis":{"orient":"left","tickCount":40,"labels":false,"domain":false,"title":null,"tickSize":3}}}},
    {"mark":{"type":"point","opacity":0},"encoding":{"x":{"field":"x1","type":"quantitative","axis":{"orient":"top","tickCount":20,"labels":false,"domain":false,"title":null,"tickSize":3}},"y":{"field":"a0","type":"quantitative","axis":{"orient":"right","tickCount":40,"labels":false,"domain":false,"title":null,"tickSize":3}}}},
    {"data":{"name":"lab"},"transform":[{"filter":{"field":"p","equal":"D"}}],"mark":{"type":"text","font":"Liberation Sans Narrow, Liberation Sans","fontSize":12,"lineBreak":"\n","lineHeight":12,"baseline":"middle"},"encoding":{"x":{"field":"x","type":"quantitative","axis":null},"y":{"field":"y","type":"quantitative","axis":null},"text":{"field":"t"}}},
    {"data":{"name":"big"},"transform":[{"filter":{"field":"p","equal":"D"}}],"mark":{"type":"text","fontSize":22,"baseline":"middle"},"encoding":{"x":{"field":"x","type":"quantitative","axis":null},"y":{"field":"y","type":"quantitative","axis":null},"text":{"field":"t"}}}
   ]},
   {"width":554,"height":24,"data":{"values":[]},"mark":{"type":"point","opacity":0}},
   {"width":587,"height":1,"data":{"values":[]},"mark":{"type":"point","opacity":0}},
   {"width":554,"height":85,"data":{"name":"E"},"resolve":{"axis":{"x":"independent","y":"independent"}},"layer":[
    {"mark":{"type":"rect","color":"black","clip":true},"encoding":{"x":{"field":"x1","type":"quantitative","scale":{"domain":[0,100],"nice":false,"zero":false},"axis":{"orient":"bottom","values":[0,10,20,30,40,50,60,70,80,90,100],"labels":false,"title":null,"tickSize":5}},"x2":{"field":"x2"},"y":{"field":"p0","type":"quantitative","scale":{"domain":[0,100],"nice":false,"zero":false},"axis":{"orient":"left","values":[0,20,40,60,80,100],"title":"%⁴⁰Ar*","titleX":-40,"titleBaseline":"middle","tickSize":5}},"y2":{"field":"p1"}}},
    {"mark":{"type":"line","interpolate":"step-after","color":"black","strokeWidth":1.2,"clip":true},"encoding":{"x":{"field":"x1","type":"quantitative","axis":null},"y":{"field":"p1","type":"quantitative","axis":null}}},
    {"mark":{"type":"line","interpolate":"step-after","color":"black","strokeWidth":1.2,"clip":true},"encoding":{"x":{"field":"x1","type":"quantitative","axis":null},"y":{"field":"p0","type":"quantitative","axis":null}}},
    {"mark":{"type":"point","opacity":0},"encoding":{"x":{"field":"x1","type":"quantitative","axis":{"orient":"top","values":[0,10,20,30,40,50,60,70,80,90,100],"labels":false,"title":null,"tickSize":5}},"y":{"field":"p0","type":"quantitative","axis":{"orient":"right","values":[0,20,40,60,80,100],"labels":false,"title":null,"tickSize":5}}}},
    {"mark":{"type":"point","opacity":0},"encoding":{"x":{"field":"x1","type":"quantitative","axis":{"orient":"bottom","tickCount":50,"labels":false,"domain":false,"title":null,"tickSize":3}},"y":{"field":"p0","type":"quantitative","axis":{"orient":"left","tickCount":10,"labels":false,"domain":false,"title":null,"tickSize":3}}}},
    {"mark":{"type":"point","opacity":0},"encoding":{"x":{"field":"x1","type":"quantitative","axis":{"orient":"top","tickCount":50,"labels":false,"domain":false,"title":null,"tickSize":3}},"y":{"field":"p0","type":"quantitative","axis":{"orient":"right","tickCount":10,"labels":false,"domain":false,"title":null,"tickSize":3}}}},
    {"data":{"name":"let"},"transform":[{"filter":{"field":"p","equal":"E"}}],"mark":{"type":"text","fontSize":20,"align":"left","baseline":"middle"},"encoding":{"x":{"field":"x","type":"quantitative","axis":null},"y":{"field":"y","type":"quantitative","axis":null},"text":{"field":"t"}}}
   ]},
   {"width":577,"height":85,"resolve":{"axis":{"x":"independent","y":"independent"}},"layer":[
    {"data":{"name":"env"},"transform":[{"filter":{"field":"p","equal":"F"}}],"mark":{"type":"line","color":"#D9A21B","strokeWidth":1.3,"strokeDash":[6,2,1.5,2]},"encoding":{"x":{"field":"x","type":"quantitative","scale":{"domain":[0,0.836],"range":[24,577],"nice":false,"zero":false},"axis":{"orient":"bottom","offset":306,"tickCount":17,"labelExpr":"datum.value == 0 ? '0' : format(datum.value, '.2f')","title":"³⁹Ar/⁴⁰Ar","titleY":51,"titleBaseline":"middle","tickSize":5}},"y":{"field":"y","type":"quantitative","scale":{"domain":[0,0.0035],"range":[391,54],"nice":false,"zero":false},"axis":{"orient":"left","offset":-24,"tickCount":17,"labelExpr":"datum.value == 0 ? '0' : format(datum.value, '.4f')","title":"³⁶Ar/⁴⁰Ar","titleX":-64,"titleBaseline":"middle","tickSize":5}},"detail":{"field":"s"}}},
    {"data":{"name":"fit"},"transform":[{"filter":{"field":"p","equal":"F"}}],"mark":{"type":"line","color":"black","strokeWidth":1.3},"encoding":{"x":{"field":"x","type":"quantitative","axis":null},"y":{"field":"y","type":"quantitative","axis":null}}},
    {"data":{"name":"dash"},"transform":[{"filter":{"field":"p","equal":"F"}}],"mark":{"type":"rule","color":"black","strokeWidth":1.5},"encoding":{"x":{"field":"x1","type":"quantitative","axis":null},"x2":{"field":"x2"},"y":{"field":"y","type":"quantitative","axis":null}}},
    {"data":{"name":"pts"},"transform":[{"filter":{"field":"p","equal":"F"}}],"mark":{"type":"rect","cornerRadius":12},"encoding":{"x":{"field":"x1","type":"quantitative","axis":null},"x2":{"field":"x2"},"y":{"field":"y1","type":"quantitative","axis":null},"y2":{"field":"y2"},"color":{"field":"st","type":"nominal","scale":{"domain":["in","out"],"range":["black","#C8207E"]},"legend":null}}},
    {"data":{"name":"ilab"},"transform":[{"filter":{"field":"p","equal":"F"}}],"mark":{"type":"text","font":"Liberation Sans Narrow, Liberation Sans","fontSize":12,"baseline":"middle"},"encoding":{"x":{"field":"x","type":"quantitative","axis":null},"y":{"field":"y","type":"quantitative","axis":null},"text":{"field":"t"},"color":{"field":"st","type":"nominal","legend":null}}},
    {"data":{"name":"itxt"},"transform":[{"filter":{"field":"p","equal":"F"}}],"mark":{"type":"text","fontSize":22,"align":"left","baseline":"middle"},"encoding":{"x":{"field":"x","type":"quantitative","axis":null},"y":{"field":"y","type":"quantitative","axis":null},"text":{"field":"t"}}},
    {"data":{"name":"fit"},"transform":[{"filter":{"field":"p","equal":"F"}}],"mark":{"type":"point","opacity":0},"encoding":{"x":{"field":"x","type":"quantitative","axis":{"orient":"bottom","offset":306,"tickCount":84,"labels":false,"domain":false,"title":null,"tickSize":3}},"y":{"field":"y","type":"quantitative","axis":{"orient":"left","offset":-24,"tickCount":70,"labels":false,"domain":false,"title":null,"tickSize":3}}}},
    {"data":{"name":"fit"},"transform":[{"filter":{"field":"p","equal":"F"}}],"mark":{"type":"point","opacity":0},"encoding":{"x":{"field":"x","type":"quantitative","axis":{"orient":"top","offset":-54,"ticks":false,"labels":false,"title":null,"domainWidth":2}},"y":{"field":"y","type":"quantitative","axis":{"orient":"right","ticks":false,"labels":false,"title":null,"domainWidth":2}}}}
   ]},
   {"width":554,"height":85,"data":{"name":"E"},"resolve":{"axis":{"x":"independent","y":"independent"}},"layer":[
    {"mark":{"type":"rect","color":"black","clip":true},"encoding":{"x":{"field":"x1","type":"quantitative","scale":{"domain":[0,100],"nice":false,"zero":false},"axis":{"orient":"bottom","values":[0,10,20,30,40,50,60,70,80,90,100],"labels":false,"title":null,"tickSize":5}},"x2":{"field":"x2"},"y":{"field":"k0","type":"quantitative","scale":{"domain":[0,0.3],"nice":false,"zero":false},"axis":{"orient":"right","values":[0,0.1,0.2,0.3],"format":"~g","title":"K/Ca","titleX":39,"titleAngle":270,"titleBaseline":"middle","tickSize":5}},"y2":{"field":"k1"}}},
    {"mark":{"type":"line","interpolate":"step-after","color":"black","strokeWidth":1.2,"clip":true},"encoding":{"x":{"field":"x1","type":"quantitative","axis":null},"y":{"field":"k1","type":"quantitative","axis":null}}},
    {"mark":{"type":"line","interpolate":"step-after","color":"black","strokeWidth":1.2,"clip":true},"encoding":{"x":{"field":"x1","type":"quantitative","axis":null},"y":{"field":"k0","type":"quantitative","axis":null}}},
    {"mark":{"type":"point","opacity":0},"encoding":{"x":{"field":"x1","type":"quantitative","axis":{"orient":"top","values":[0,10,20,30,40,50,60,70,80,90,100],"labels":false,"title":null,"tickSize":5}},"y":{"field":"k0","type":"quantitative","axis":{"orient":"left","values":[0,0.1,0.2,0.3],"labels":false,"title":null,"tickSize":5}}}},
    {"mark":{"type":"point","opacity":0},"encoding":{"x":{"field":"x1","type":"quantitative","axis":{"orient":"bottom","tickCount":50,"labels":false,"domain":false,"title":null,"tickSize":3}},"y":{"field":"k0","type":"quantitative","axis":{"orient":"left","tickCount":15,"labels":false,"domain":false,"title":null,"tickSize":3}}}},
    {"mark":{"type":"point","opacity":0},"encoding":{"x":{"field":"x1","type":"quantitative","axis":{"orient":"top","tickCount":50,"labels":false,"domain":false,"title":null,"tickSize":3}},"y":{"field":"k0","type":"quantitative","axis":{"orient":"right","tickCount":15,"labels":false,"domain":false,"title":null,"tickSize":3}}}}
   ]},
   {"width":587,"height":1,"data":{"values":[]},"mark":{"type":"point","opacity":0}},
   {"width":554,"height":340,"data":{"name":"E"},"resolve":{"axis":{"x":"independent","y":"independent"}},"layer":[
    {"mark":{"type":"rect","color":"black","clip":true},"encoding":{"x":{"field":"x1","type":"quantitative","scale":{"domain":[0,100],"nice":false,"zero":false},"axis":{"orient":"bottom","values":[0,10,20,30,40,50,60,70,80,90,100],"title":"Cumulative % ³⁹Arₖ released","titleY":46,"titleBaseline":"middle","tickSize":5}},"x2":{"field":"x2"},"y":{"field":"a0","type":"quantitative","scale":{"domain":[0,14],"nice":false,"zero":false},"axis":{"orient":"left","values":[0,1,2,3,4,5,6,7,8,9,10,11,12,13,14],"title":"Apparent Age (Ma)","titleFontSize":21,"titleX":-40,"titleBaseline":"middle","tickSize":5}},"y2":{"field":"a1"}}},
    {"mark":{"type":"line","interpolate":"step-after","color":"black","strokeWidth":1.2,"clip":true},"encoding":{"x":{"field":"x1","type":"quantitative","axis":null},"y":{"field":"a1","type":"quantitative","axis":null}}},
    {"mark":{"type":"line","interpolate":"step-after","color":"black","strokeWidth":1.2,"clip":true},"encoding":{"x":{"field":"x1","type":"quantitative","axis":null},"y":{"field":"a0","type":"quantitative","axis":null}}},
    {"mark":{"type":"point","opacity":0},"encoding":{"x":{"field":"x1","type":"quantitative","axis":{"orient":"top","values":[0,10,20,30,40,50,60,70,80,90,100],"labels":false,"title":null,"tickSize":5}},"y":{"field":"a0","type":"quantitative","axis":{"orient":"right","values":[0,1,2,3,4,5,6,7,8,9,10,11,12,13,14],"labels":false,"title":null,"tickSize":5}}}},
    {"mark":{"type":"point","opacity":0},"encoding":{"x":{"field":"x1","type":"quantitative","axis":{"orient":"bottom","tickCount":50,"labels":false,"domain":false,"title":null,"tickSize":3}},"y":{"field":"a0","type":"quantitative","axis":{"orient":"left","tickCount":70,"labels":false,"domain":false,"title":null,"tickSize":3}}}},
    {"mark":{"type":"point","opacity":0},"encoding":{"x":{"field":"x1","type":"quantitative","axis":{"orient":"top","tickCount":50,"labels":false,"domain":false,"title":null,"tickSize":3}},"y":{"field":"a0","type":"quantitative","axis":{"orient":"right","tickCount":70,"labels":false,"domain":false,"title":null,"tickSize":3}}}},
    {"data":{"name":"lab"},"transform":[{"filter":{"field":"p","equal":"E"}}],"mark":{"type":"text","font":"Liberation Sans Narrow, Liberation Sans","fontSize":12,"lineBreak":"\n","lineHeight":12,"baseline":"middle"},"encoding":{"x":{"field":"x","type":"quantitative","axis":null},"y":{"field":"y","type":"quantitative","axis":null},"text":{"field":"t"}}},
    {"data":{"name":"big"},"transform":[{"filter":{"field":"p","equal":"E"}}],"mark":{"type":"text","fontSize":22,"baseline":"middle"},"encoding":{"x":{"field":"x","type":"quantitative","axis":null},"y":{"field":"y","type":"quantitative","axis":null},"text":{"field":"t"}}},
    {"data":{"name":"arr"},"transform":[{"filter":{"field":"p","equal":"E"}}],"mark":{"type":"rule","color":"black","strokeWidth":1.2},"encoding":{"x":{"field":"x1","type":"quantitative","axis":null},"x2":{"field":"x2"},"y":{"field":"y","type":"quantitative","axis":null}}},
    {"data":{"name":"vbar"},"transform":[{"filter":{"field":"p","equal":"E"}}],"mark":{"type":"rule","color":"black","strokeWidth":1.2},"encoding":{"x":{"field":"x","type":"quantitative","axis":null},"y":{"field":"y0","type":"quantitative","axis":null},"y2":{"field":"y1"}}},
    {"data":{"name":"chev"},"transform":[{"filter":{"field":"p","equal":"E"}}],"mark":{"type":"point","filled":false,"color":"black","strokeWidth":2,"size":144,"opacity":1},"encoding":{"x":{"field":"x","type":"quantitative","axis":null},"y":{"field":"y","type":"quantitative","axis":null},"shape":{"field":"d","type":"nominal","scale":{"domain":["l","r"],"range":["M1,-1L0,0L1,1","M-1,-1L0,0L-1,1"]},"legend":null}}}
   ]},
   {"width":587,"height":1,"data":{"values":[]},"mark":{"type":"point","opacity":0}}
]
}
